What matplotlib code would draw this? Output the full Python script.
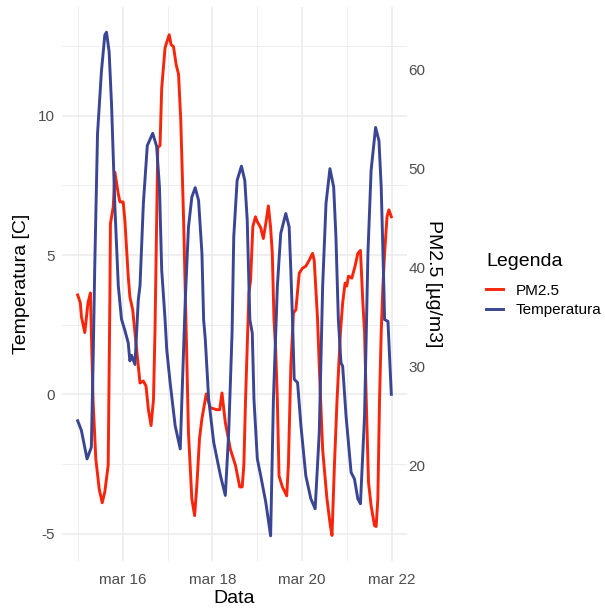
import numpy as np
import pandas as pd
import matplotlib
matplotlib.use('Agg')
import matplotlib.pyplot as plt
import matplotlib.dates as mdates
from matplotlib.lines import Line2D

plt.rcParams['font.family'] = ['Liberation Sans', 'DejaVu Sans']
plt.rcParams['axes.unicode_minus'] = False

# ore dall'inizio (15 marzo 00:00) e valori
temp_ore = [0.0, 2.0, 5.0, 7.3, 8.2, 9.1, 10.6, 12.7, 14.5, 15.4,
            16.8, 18.1, 19.9, 21.7, 23.4, 25.2, 27.0, 27.9, 28.8, 30.6,
            32.4, 33.3, 35.1, 37.2, 40.1, 42.2, 43.7, 44.9, 46.7, 47.6,
            49.4, 52.1, 54.8, 57.5, 59.2, 61.0, 62.8, 64.6, 66.4, 67.3,
            68.2, 70.0, 72.7, 76.3, 78.9, 80.7, 82.5, 83.4, 85.2, 87.5,
            89.3, 90.6, 92.0, 93.3, 94.2, 96.0, 97.8, 100.5, 103.1, 104.6,
            106.7, 108.5, 111.2, 113.0, 113.9, 114.8, 115.7, 117.5, 119.3, 121.9,
            124.6, 126.9, 129.1, 130.9, 132.7, 134.8, 136.8, 138.0, 139.3, 140.7,
            141.6, 143.4, 146.1, 147.9, 149.7, 151.1, 153.3, 155.1, 156.8, 159.2,
            161.0, 162.2, 163.6, 164.0, 165.8, 167.6]
temperatura = [-0.95, -1.3, -2.32, -1.9, 1.0, 4.5, 9.35, 11.6, 12.9, 13.0,
               12.3, 10.4, 6.7, 3.9, 2.7, 2.3, 1.85, 1.2, 1.4, 1.07,
               3.4, 3.9, 6.85, 8.93, 9.37, 8.9, 7.44, 4.46, 2.68, 1.6,
               0.42, -1.13, -1.96, 3.4, 6.0, 7.08, 7.42, 6.96, 5.06, 2.68,
               1.96, -0.18, -1.73, -2.92, -3.63, -1.37, 2.2, 5.65, 7.68, 8.19,
               7.68, 6.25, 2.68, 2.2, -0.18, -2.32, -2.92, -3.87, -5.08, -0.18,
               3.87, 5.77, 6.49, 6.01, 4.46, 2.68, 0.54, 0.42, -1.13, -2.92,
               -3.75, -4.11, -1.37, 3.87, 6.85, 8.1, 7.44, 5.65, 2.68, 1.13,
               1.01, -0.77, -2.8, -3.04, -3.75, -3.93, -0.77, 5.06, 8.04, 9.58,
               9.1, 7.44, 3.87, 2.68, 2.62, 0.0]

pm_ore = [0.0, 1.4, 2.0, 3.8, 5.5, 6.8, 8.2, 9.7, 11.5, 13.1,
          14.5, 16.3, 17.2, 17.5, 19.0, 19.9, 21.7, 22.6, 24.3, 25.2,
          27.0, 27.9, 29.4, 30.6, 32.4, 33.3, 35.1, 36.5, 37.8, 39.2,
          40.5, 41.3, 42.8, 44.0, 44.9, 46.7, 48.9, 49.9, 51.2, 52.6,
          53.9, 55.1, 56.6, 58.0, 59.2, 61.0, 62.5, 63.7, 65.1, 66.4,
          68.7, 70.9, 74.5, 75.9, 77.1, 78.9, 81.6, 84.3, 86.6, 87.9,
          88.8, 89.7, 91.5, 92.4, 93.6, 95.0, 96.0, 97.8, 99.2, 100.5,
          101.9, 103.1, 104.0, 104.9, 105.8, 106.7, 107.6, 109.4, 111.7, 112.6,
          113.9, 115.3, 116.6, 118.4, 120.1, 121.9, 123.7, 125.5, 126.4, 128.2,
          129.1, 130.9, 133.2, 135.0, 135.9, 137.2, 138.6, 140.4, 141.6, 142.9,
          143.8, 144.7, 146.5, 148.2, 149.7, 151.1, 152.4, 153.3, 154.2, 155.4,
          156.8, 158.6, 159.5, 160.4, 161.3, 162.2, 163.1, 164.0, 165.3, 166.3,
          167.6]
pm25 = [37.2, 36.4, 35.0, 33.4, 36.4, 37.4, 26.6, 20.6, 17.6, 16.2,
        17.3, 20.0, 36.7, 44.4, 46.1, 49.6, 47.4, 46.6, 46.6, 44.8,
        39.1, 37.0, 35.7, 33.4, 30.0, 28.3, 28.5, 28.0, 25.6, 24.0,
        26.6, 33.4, 52.1, 52.3, 58.1, 62.2, 63.5, 62.5, 62.3, 60.5,
        59.5, 54.8, 44.8, 33.4, 23.3, 16.6, 14.9, 18.0, 22.7, 24.7,
        27.2, 25.8, 25.6, 25.6, 27.3, 24.3, 21.6, 20.0, 17.8, 17.8,
        20.0, 26.6, 37.4, 38.7, 44.1, 45.1, 44.6, 44.0, 42.9, 44.4,
        46.2, 44.0, 41.4, 34.7, 31.7, 26.6, 18.9, 17.8, 16.9, 20.0,
        30.0, 35.4, 35.7, 39.4, 39.9, 40.1, 40.7, 41.4, 40.7, 34.7,
        30.0, 21.6, 16.6, 13.9, 12.9, 20.0, 26.6, 33.4, 36.4, 38.4,
        38.1, 39.1, 38.9, 40.1, 41.4, 41.7, 36.4, 33.4, 26.6, 18.3,
        15.9, 13.9, 13.8, 16.6, 26.6, 33.4, 38.1, 41.4, 45.1, 45.8,
        45.1]

inizio = pd.Timestamp('2023-03-15 00:00')
t_temp = inizio + pd.to_timedelta(temp_ore, unit='h')
t_pm = inizio + pd.to_timedelta(pm_ore, unit='h')

# asse secondario: PM2.5 = temperatura * k + c
k, c = 2.815, 27.16
def to_pm(t):
    return t * k + c
def to_temp(p):
    return (p - c) / k

ROSSO = '#F7250B'
BLU = '#3A4594'
GRIGIO = '#4D4D4D'

fig = plt.figure(figsize=(6.05, 6.08), dpi=100)
ax = fig.add_axes([62 / 605, 47 / 608, 345 / 605, 554 / 608])

ax.plot(t_pm, to_temp(np.array(pm25)), color=ROSSO, lw=2.1)
ax.plot(t_temp, temperatura, color=BLU, lw=2.1)

tmin = min(min(temperatura), to_temp(min(pm25)))
tmax = max(max(temperatura), to_temp(max(pm25)))
pad = (tmax - tmin) * 0.05
ax.set_ylim(tmin - pad, tmax + pad)
x0, x1 = mdates.date2num(t_temp[0]), mdates.date2num(t_temp[-1])
ax.set_xlim(x0 - (x1 - x0) * 0.05, x1 + (x1 - x0) * 0.05)

ax.set_yticks([-5, 0, 5, 10])
ax.set_yticks([-2.5, 2.5, 7.5, 12.5], minor=True)
ax.xaxis.set_major_locator(mdates.DayLocator(bymonthday=[16, 18, 20, 22]))
ax.xaxis.set_minor_locator(mdates.DayLocator(bymonthday=[15, 17, 19, 21]))
ax.xaxis.set_major_formatter(plt.FuncFormatter(lambda v, p: 'mar %d' % mdates.num2date(v).day))

ax.grid(which='major', color='#EBEBEB', lw=1.1)
ax.grid(which='minor', color='#EBEBEB', lw=0.6)
ax.set_axisbelow(True)
for s in ax.spines.values():
    s.set_visible(False)
ax.tick_params(which='both', length=0, labelsize=11, labelcolor=GRIGIO)
ax.tick_params(axis='x', pad=9)
ax.tick_params(axis='y', pad=5)
ax.set_xlabel('Data', fontsize=14, labelpad=2)
ax.set_ylabel('Temperatura [C]', fontsize=14, labelpad=6)

ax2 = ax.secondary_yaxis('right', functions=(to_pm, to_temp))
ax2.set_yticks([20, 30, 40, 50, 60])
for s in ax2.spines.values():
    s.set_visible(False)
ax2.tick_params(length=0, labelsize=11, labelcolor=GRIGIO, pad=1)
ax2.set_ylabel('PM2.5 [µg/m3]', fontsize=14, rotation=270, labelpad=12)

# legenda
fig.text(486 / 605, 1 - 261 / 608, 'Legenda', fontsize=14, ha='left', va='center')
maniglie = [Line2D([], [], color=ROSSO, lw=2.1), Line2D([], [], color=BLU, lw=2.1)]
fig.legend(maniglie, ['PM2.5', 'Temperatura'],
           loc='upper left', bbox_to_anchor=(472 / 605, 1 - 270 / 608),
           frameon=False, fontsize=11, handlelength=1.15, handletextpad=0.8,
           labelspacing=0.35)

fig.savefig('out.png', dpi=100)
